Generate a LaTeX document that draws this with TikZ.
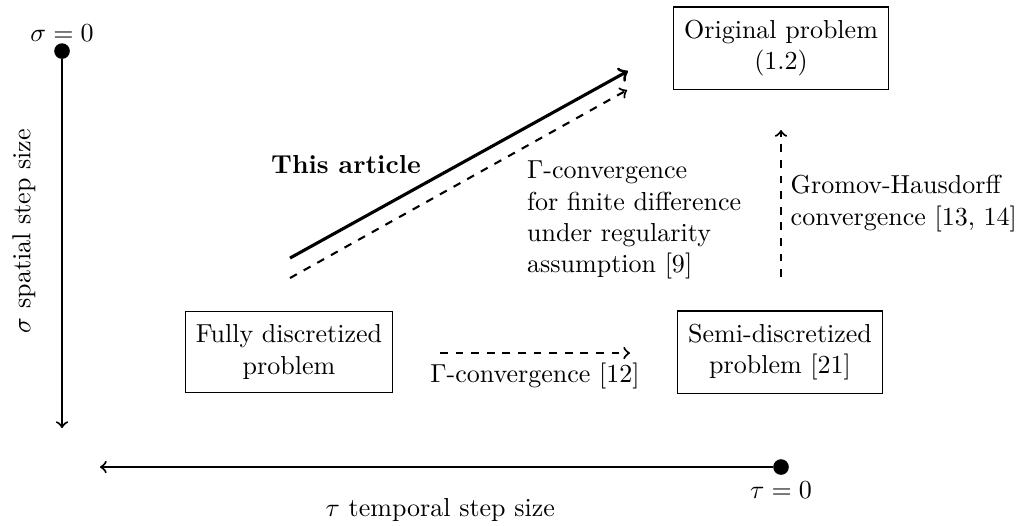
\documentclass[tikz,border=0pt]{standalone}
\usepackage{amsmath}
\usepackage{amssymb}
\usetikzlibrary{positioning}

\begin{document}
\begin{tikzpicture}[
    probbox/.style={draw, align=center, inner xsep=4pt, inner ysep=5pt},
    axisline/.style={thick, ->},
    convline/.style={thick, dashed, ->},
    zerodot/.style={circle, fill, inner sep=0pt, minimum size=6pt}]
  \useasboundingbox (0,0) rectangle (13.824,7.095);
  % the two step size axes
  \node[zerodot] (sigzero) at (0.838,6.405) {};
  \node[above=-3pt of sigzero] (sigzerolab) {$\sigma=0$};
  \coordinate (sigend) at (0.838,1.311);
  \draw[axisline] (sigzero) -- (sigend);
  \node[rotate=90] (siglab) at (0.324,3.973) {$\sigma$ spatial step size};
  \node[zerodot] (tauzero) at (10.554,0.784) {};
  \node[below=-1pt of tauzero] (tauzerolab) {$\tau=0$};
  \coordinate (tauend) at (1.351,0.784);
  \draw[axisline] (tauzero) -- (tauend);
  \node (taulab) at (5.95,0.2) {$\tau$ temporal step size};
  % the three problems
  \node[probbox] (full) at (3.905,2.338) {Fully discretized\\problem};
  \node[probbox] (semi) at (10.541,2.338) {Semi-discretized\\problem [21]};
  \node[probbox] (orig) at (10.554,6.446) {Original problem\\(1.2)};
  % convergence results
  \coordinate (fsA) at (5.946,2.324); \coordinate (fsB) at (8.514,2.324);
  \draw[convline] (fsA) -- (fsB) node[midway, below] (fslab) {$\Gamma$-convergence [12]};
  \coordinate (soA) at (10.554,3.351); \coordinate (soB) at (10.554,5.338);
  \draw[convline] (soA) -- (soB) node[midway, right, align=left] (solab)
        {Gromov-Hausdorff\\convergence [13, 14]};
  \coordinate (foA) at (3.919,3.338); \coordinate (foB) at (8.473,5.878);
  \draw[convline] (foA) -- (foB);
  \node[anchor=west, align=left] (folab) at (7.0,4.122)
        {$\Gamma$-convergence\\for finite difference\\under regularity\\assumption [9]};
  \coordinate (artA) at (3.919,3.608); \coordinate (artB) at (8.486,6.135);
  \draw[very thick, ->] (artA) -- (artB);
  \node (artlab) at (4.676,4.865) {\textbf{This article}};
\end{tikzpicture}
\end{document}
